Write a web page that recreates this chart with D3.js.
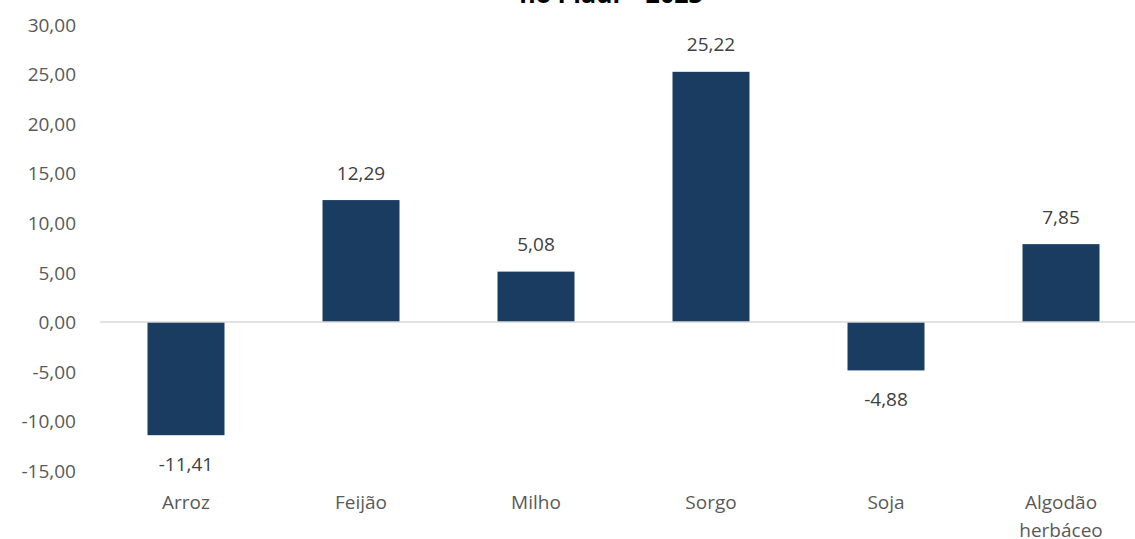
<!DOCTYPE html>
<html>
<head>
<meta charset="utf-8">
<script src="https://cdn.jsdelivr.net/npm/d3@7"></script>
<style>
  body { margin: 0; background: #fff; }
  text { font-family: "Open Sans", "Noto Sans", sans-serif; }
</style>
</head>
<body>
<div id="chart"></div>
<script>
// chart data
var categories = ["Arroz", "Feijão", "Milho", "Sorgo", "Soja", "Algodão herbáceo"];
var values = [-11.41, 12.29, 5.08, 25.22, -4.88, 7.85];
var yTicks = [30, 25, 20, 15, 10, 5, 0, -5, -10, -15];
var title = "no Piauí – 2023";

var width = 1135, height = 539;

// pt-BR style number: comma decimal, plain hyphen for minus
var fmt = function(v) { return d3.format(".2f")(v).replace(".", ",").replace("\u2212", "-"); };

var svg = d3.select("#chart").append("svg")
    .attr("width", width)
    .attr("height", height);

var x = d3.scaleBand()
    .domain(categories)
    .range([98.5, 1148.5])
    .paddingInner(0.56)
    .paddingOuter(0.28);

var y = d3.scaleLinear()
    .domain([-15, 30])
    .range([470.8, 24.4]);

// title (mostly cut off at top, as in the source)
svg.append("text")
    .attr("x", 611)
    .attr("y", 3)
    .attr("text-anchor", "middle")
    .style("font-size", "25px")
    .style("font-weight", "bold")
    .style("fill", "#000")
    .text(title);

// y axis labels
var yAxis = d3.axisLeft(y).tickValues(yTicks).tickSize(0).tickFormat(fmt);
var gy = svg.append("g").attr("transform", "translate(80,0)").call(yAxis);
gy.select(".domain").remove();
gy.selectAll("text")
    .attr("x", -4)
    .attr("dy", "0.35em")
    .style("font-size", "19px")
    .style("fill", "#595959")
    .style("font-family", "'Open Sans', sans-serif");

// bars
svg.selectAll(".bar")
    .data(values)
    .enter()
    .append("rect")
    .attr("class", "bar")
    .attr("x", function(d, i) { return x(categories[i]); })
    .attr("width", x.bandwidth())
    .attr("y", function(d) { return y(Math.max(0, d)); })
    .attr("height", function(d) { return Math.abs(y(d) - y(0)); })
    .style("fill", "#1a3c61");

// zero line
svg.append("line")
    .attr("x1", 100).attr("x2", width)
    .attr("y1", y(0)).attr("y2", y(0))
    .style("stroke", "#d9d9d9")
    .style("stroke-width", 1.5);

// value labels
svg.selectAll(".val")
    .data(values)
    .enter()
    .append("text")
    .attr("class", "val")
    .attr("x", function(d, i) { return x(categories[i]) + x.bandwidth() / 2; })
    .attr("y", function(d) { return d >= 0 ? y(d) - 27 : y(d) + 29; })
    .attr("dy", "0.35em")
    .attr("text-anchor", "middle")
    .style("font-size", "19px")
    .style("fill", "#404040")
    .text(fmt);

// category labels, long one wrapped on two lines
var cats = svg.selectAll(".cat")
    .data(categories)
    .enter()
    .append("text")
    .attr("class", "cat")
    .attr("x", function(d) { return x(d) + x.bandwidth() / 2; })
    .attr("y", 502)
    .attr("text-anchor", "middle")
    .style("font-size", "19px")
    .style("fill", "#595959");

cats.each(function(d) {
  var words = d === "Algodão herbáceo" ? ["Algodão", "herbáceo"] : [d];
  var t = d3.select(this);
  words.forEach(function(w, j) {
    t.append("tspan")
      .attr("x", t.attr("x"))
      .attr("dy", j === 0 ? "0.35em" : "28px")
      .text(w);
  });
});
</script>
</body>
</html>
